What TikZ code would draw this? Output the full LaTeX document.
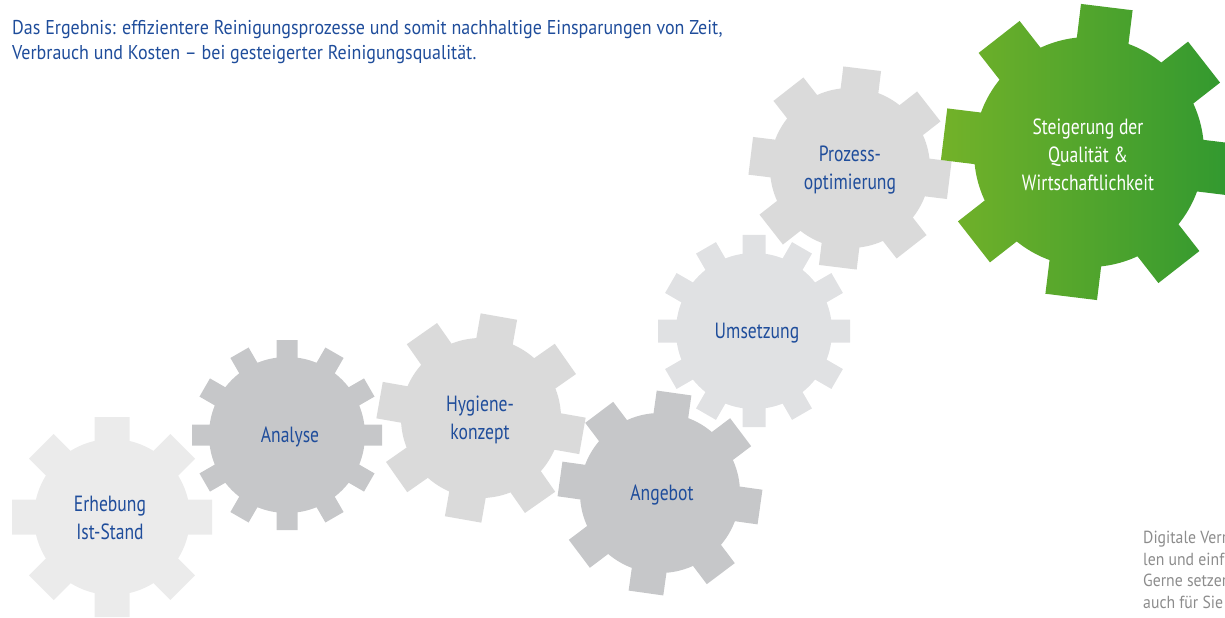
\documentclass[tikz,border=0pt]{standalone}
\usepackage{fontspec}
\setmainfont[FakeStretch=0.8]{PT Sans}
\newfontfamily\introfont[FakeStretch=0.9,Ligatures=TeX]{PT Sans}
\usetikzlibrary{positioning}
\definecolor{textblue}{RGB}{31,77,155}
\definecolor{notegray}{RGB}{140,140,140}
\definecolor{gearpale}{RGB}{235,235,235}
\definecolor{gearmid}{RGB}{198,199,201}
\definecolor{gearlight}{RGB}{218,218,218}
\definecolor{gearsoft}{RGB}{224,225,227}
\definecolor{greenleft}{RGB}{115,178,41}
\definecolor{greenright}{RGB}{48,152,48}
\newcommand{\gearWheel}[7]{
  \path[#7,shift={#1},rotate=#6] (0,0) circle (#3)
    \foreach \k in {1,...,#2}{
      ([rotate=\k*360/#2]-#5/2,0) -- ([rotate=\k*360/#2]#5/2,0)
      -- ([rotate=\k*360/#2]#5/2,#4) -- ([rotate=\k*360/#2]-#5/2,#4) -- cycle}
}
\tikzset{
  gearlabel/.style={align=center,text=textblue,inner sep=0pt,
    font=\fontsize{22bp}{28bp}\selectfont},
  notetext/.style={align=left,anchor=north west,inner sep=0pt,text=notegray,
    font=\introfont\fontsize{17.5bp}{21.7bp}\selectfont}
}

\begin{document}
\begin{tikzpicture}[x=1bp,y=-1bp]
  \useasboundingbox (0,0) rectangle (1225,618);
  \clip (0,0) rectangle (1225,618);

  \gearWheel{(112,517)}{8}{78}{100}{35}{0}{fill=gearpale};
  \gearWheel{(287,435)}{12}{78}{95}{21}{0}{fill=gearmid};
  \gearWheel{(481,418)}{8}{80}{103}{37}{-10}{fill=gearlight};
  \gearWheel{(660,493)}{8}{80}{101}{35}{-8}{fill=gearmid};
  \gearWheel{(754,331)}{12}{78}{96}{23}{0}{fill=gearsoft};
  \gearWheel{(850,168)}{8}{80}{100}{38}{-7}{fill=gearlight};
  \gearWheel{(1089,152)}{8}{115}{146}{52}{-7}{left color=greenleft,right color=greenright};

  \node[gearlabel] (erhebung) at (110,518) {Erhebung\\Ist-Stand};
  \node[gearlabel] (analyse) at (290,437) {Analyse};
  \node[gearlabel] (hygiene) at (480,420) {Hygiene-\\konzept};
  \node[gearlabel] (angebot) at (662,495) {Angebot};
  \node[gearlabel] (umsetzung) at (757,333) {Umsetzung};
  \node[gearlabel] (prozess) at (850,170) {Prozess-\\optimierung};
  \node[gearlabel,text=white] (steigerung) at (1088,155) {Steigerung der\\Qualität \&\\Wirtschaftlichkeit};

  \node[align=left,anchor=north west,inner sep=0pt,text=textblue,
    font=\introfont\fontsize{20bp}{25bp}\selectfont] (intro) at (12,20)
    {Das Ergebnis: effizientere Reinigungsprozesse und somit nachhaltige Einsparungen von Zeit,\\
     Verbrauch und Kosten – bei gesteigerter Reinigungsqualität.};
  \node[notetext] (hinweis) at (1143,531)
    {Digitale Verr\\len und einf\\Gerne setzer\\auch für Sie};
\end{tikzpicture}
\end{document}
